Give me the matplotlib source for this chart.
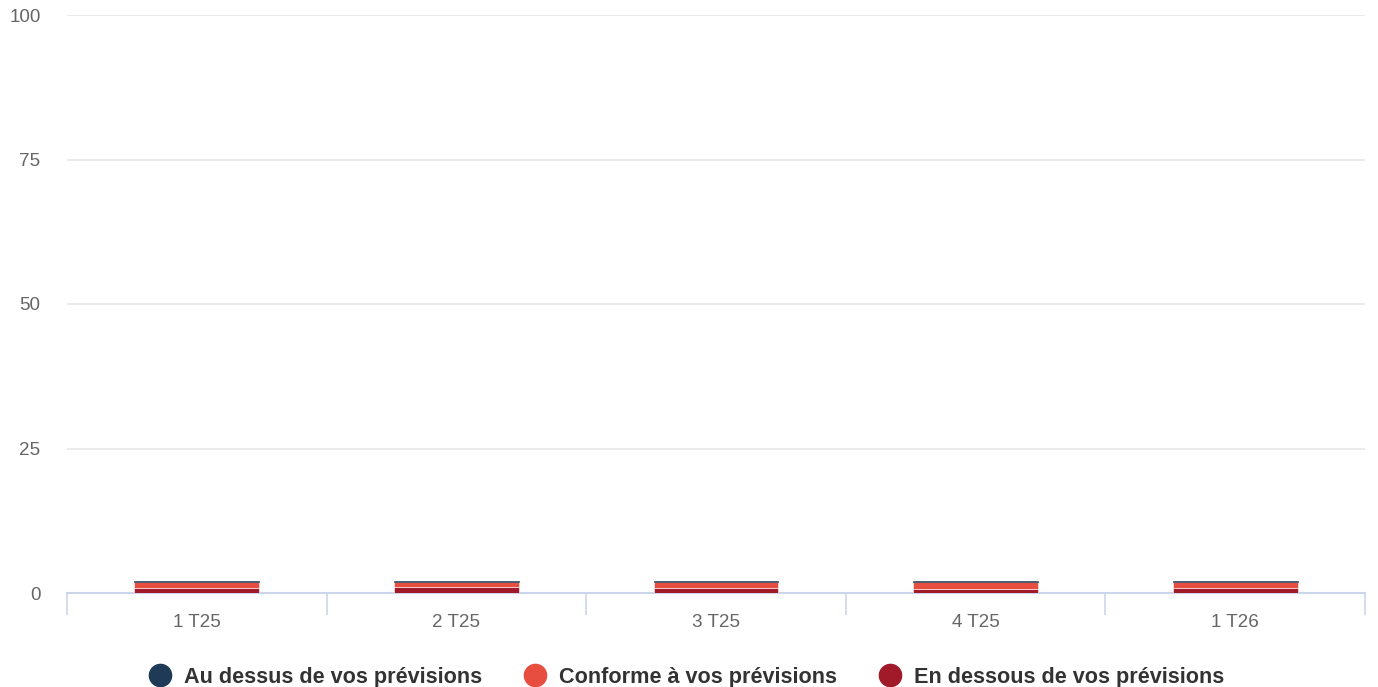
import matplotlib
matplotlib.use("Agg")
import matplotlib.pyplot as plt
from matplotlib.lines import Line2D
import numpy as np

categories = ["1 T25", "2 T25", "3 T25", "4 T25", "1 T26"]
au_dessus = [0.2, 0.2, 0.2, 0.15, 0.2]
conforme = [0.95, 0.85, 0.95, 1.2, 0.95]
en_dessous = [0.95, 1.05, 0.95, 0.75, 0.95]
series_names = ["Au dessus de vos prévisions", "Conforme à vos prévisions", "En dessous de vos prévisions"]
colors = ["#1f3a57", "#e84e40", "#a01a29"]
yticks = [0, 25, 50, 75, 100]

plt.rcParams['font.family'] = ['Liberation Sans', 'DejaVu Sans']

W, H = 1378, 687
fig = plt.figure(figsize=(W / 100, H / 100), dpi=100)
ax = fig.add_axes([67 / W, 1 - 593 / H, (1365 - 67) / W, (593 - 15) / H])

x = np.arange(len(categories))
w = 0.48
ax.bar(x, en_dessous, width=w, color=colors[2], edgecolor="white", linewidth=0.4, zorder=3)
ax.bar(x, conforme, width=w, bottom=en_dessous, color=colors[1], edgecolor="white", linewidth=0.4, zorder=3)
bottom2 = np.array(en_dessous) + np.array(conforme)
ax.bar(x, au_dessus, width=w, bottom=bottom2, color=colors[0], edgecolor=colors[0], linewidth=0.4, zorder=3)

ax.set_xlim(-0.5, len(categories) - 0.5)
ax.set_ylim(0, 100)
ax.set_yticks(yticks)
ax.set_yticklabels([str(v) for v in yticks], fontsize=13.6, color="#666666")
ax.yaxis.grid(True, color="#e6e6e6", linewidth=1.2, zorder=0)
ax.tick_params(axis='y', length=0, pad=19)

ax.set_xticks(x)
ax.set_xticklabels(categories, fontsize=13.6, color="#666666")
ax.tick_params(axis='x', which='major', length=0, pad=15)
ax.set_xticks(np.arange(-0.5, len(categories)), minor=True)
ax.tick_params(axis='x', which='minor', length=16, width=1.2, color="#ccd6eb")

for s in ["top", "right", "left"]:
    ax.spines[s].set_visible(False)
ax.spines["bottom"].set_color("#ccd6eb")
ax.spines["bottom"].set_linewidth(1.5)

# legend drawn manually at the bottom
marker_x = [160, 535, 890]
text_x = [184, 559, 914]
ly = 1 - 675 / H
for mx, tx, name, c in zip(marker_x, text_x, series_names, colors):
    fig.add_artist(Line2D([mx / W], [ly], marker='o', linestyle='', markersize=16,
                          markerfacecolor=c, markeredgecolor=c, transform=fig.transFigure))
    fig.text(tx / W, ly, name, fontsize=15.6, fontweight='bold', color="#333333",
             ha='left', va='center_baseline')

fig.savefig("out.png", dpi=100)
